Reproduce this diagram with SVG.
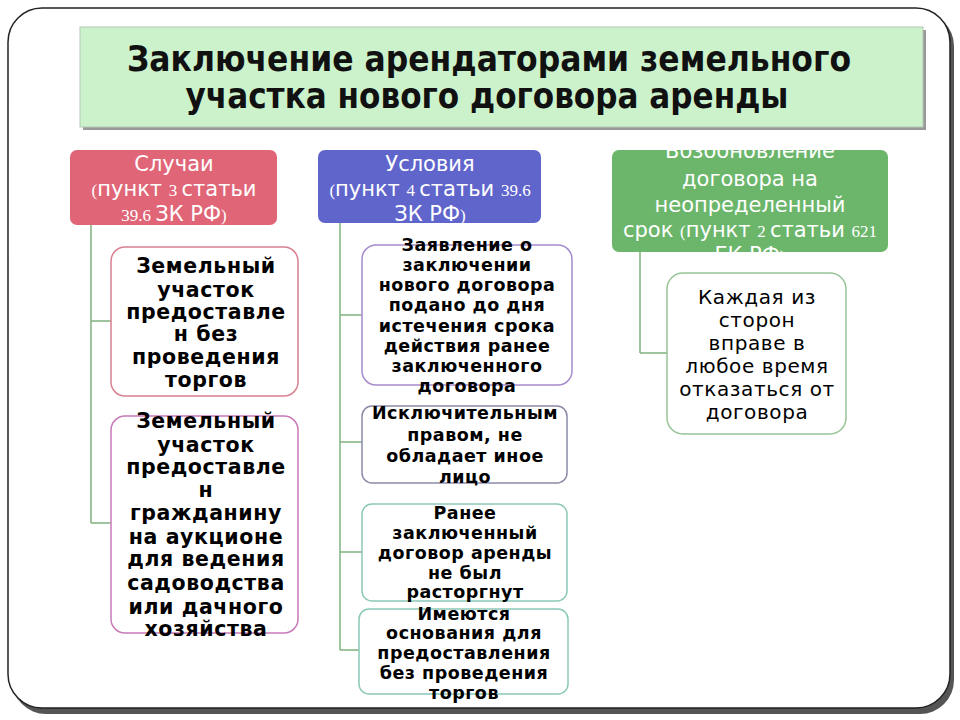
<svg xmlns="http://www.w3.org/2000/svg" width="960" height="720" viewBox="0 0 960 720">
<style>
.hd{font-family:"DejaVu Sans","Noto Sans",sans-serif;font-size:21px;fill:#fff;text-anchor:middle}
.sf{font-family:"Liberation Serif","DejaVu Serif",serif;font-size:17px}
.bl{font-family:"DejaVu Sans","Noto Sans",sans-serif;font-weight:bold;font-size:20.5px;letter-spacing:0.6px;fill:#000;text-anchor:middle}
.bm{font-family:"DejaVu Sans","Noto Sans",sans-serif;font-weight:bold;font-size:17.5px;letter-spacing:0.5px;fill:#000;text-anchor:middle}
.rn{font-family:"DejaVu Sans","Noto Sans",sans-serif;font-size:20px;letter-spacing:0.6px;fill:#000;text-anchor:middle}
.tt{font-family:"DejaVu Sans","Noto Sans",sans-serif;font-weight:bold;font-size:35px;fill:#111;text-anchor:middle}
.cn{stroke:#7fb27f;stroke-width:1.5;fill:none}
.bx{fill:#fff;stroke-width:1.5}
</style>
<rect width="960" height="720" fill="#fff"/>
<rect x="12" y="12" width="942" height="702" rx="34" fill="#555"/>
<rect x="8" y="8" width="942" height="700" rx="34" fill="#fff" stroke="#222" stroke-width="1.5"/>
<g id="title">
<rect x="83" y="30" width="843" height="100" fill="#999"/>
<rect x="80" y="27" width="843" height="100" fill="#ccf2cc" stroke="#b5c8b5" stroke-width="1"/>
<text class="tt" x="489" y="71" textLength="724" lengthAdjust="spacingAndGlyphs">Заключение арендаторами земельного</text>
<text class="tt" x="487" y="108" textLength="603" lengthAdjust="spacingAndGlyphs">участка нового договора аренды</text>
</g>
<g id="connectors">
<path class="cn" d="M91 225V523M91 321H111M91 523H111"/>
<path class="cn" d="M340 223V650M340 315H362M340 442H362M340 552H362M340 650H359"/>
<path class="cn" d="M640 252V353M640 353H667"/>
</g>
<g id="h1">
<rect x="70" y="150" width="207" height="75" rx="7" fill="#e06677"/>
<text class="hd" x="174" y="171">Случаи</text>
<text class="hd" x="174" y="196"><tspan class="sf">(</tspan>пункт <tspan class="sf">3 </tspan>статьи</text>
<text class="hd" x="174" y="221"><tspan class="sf">39.6 </tspan>ЗК РФ<tspan class="sf">)</tspan></text>
</g>
<g id="h2">
<rect x="318" y="150" width="223" height="73" rx="7" fill="#6065cc"/>
<text class="hd" x="430" y="171">Условия</text>
<text class="hd" x="430" y="196"><tspan class="sf">(</tspan>пункт <tspan class="sf">4 </tspan>статьи <tspan class="sf">39.6</tspan></text>
<text class="hd" x="430" y="221">ЗК РФ<tspan class="sf">)</tspan></text>
</g>
<g id="h3">
<rect x="612" y="150" width="276" height="102" rx="7" fill="#6bb66b"/>
<text class="hd" x="750" y="158">Возобновление</text>
<text class="hd" x="750" y="186">договора на</text>
<text class="hd" x="750" y="212">неопределенный</text>
<text class="hd" x="750" y="237">срок <tspan class="sf">(</tspan>пункт <tspan class="sf">2 </tspan>статьи <tspan class="sf">621</tspan></text>
<text class="hd" x="750" y="262">ГК РФ<tspan class="sf">)</tspan></text>
</g>
<g id="l1">
<rect class="bx" x="111" y="247" width="187" height="149" rx="14" stroke="#d98090"/>
<text class="bl" x="206" y="273">Земельный</text>
<text class="bl" x="206" y="297">участок</text>
<text class="bl" x="206" y="319">предоставле</text>
<text class="bl" x="206" y="341">н без</text>
<text class="bl" x="206" y="364">проведения</text>
<text class="bl" x="206" y="387">торгов</text>
</g>
<g id="l2">
<rect class="bx" x="111" y="416" width="187" height="217" rx="14" stroke="#c77ab8"/>
<text class="bl" x="206" y="428">Земельный</text>
<text class="bl" x="206" y="452">участок</text>
<text class="bl" x="206" y="474">предоставле</text>
<text class="bl" x="206" y="497">н</text>
<text class="bl" x="206" y="520">гражданину</text>
<text class="bl" x="206" y="544">на аукционе</text>
<text class="bl" x="206" y="566">для ведения</text>
<text class="bl" x="206" y="590">садоводства</text>
<text class="bl" x="206" y="614">или дачного</text>
<text class="bl" x="206" y="636">хозяйства</text>
</g>
<g id="m1">
<rect class="bx" x="362" y="245" width="210" height="140" rx="14" stroke="#a68ccc"/>
<text class="bm" x="467" y="251">Заявление о</text>
<text class="bm" x="467" y="271">заключении</text>
<text class="bm" x="467" y="291">нового договора</text>
<text class="bm" x="467" y="311">подано до дня</text>
<text class="bm" x="467" y="332">истечения срока</text>
<text class="bm" x="467" y="352">действия ранее</text>
<text class="bm" x="467" y="372">заключенного</text>
<text class="bm" x="467" y="392">договора</text>
</g>
<g id="m2">
<rect class="bx" x="362" y="406" width="205" height="77" rx="10" stroke="#8a8aa8"/>
<text class="bm" x="465" y="419">Исключительным</text>
<text class="bm" x="465" y="441">правом, не</text>
<text class="bm" x="465" y="462">обладает иное</text>
<text class="bm" x="465" y="483">лицо</text>
</g>
<g id="m3">
<rect class="bx" x="362" y="504" width="205" height="97" rx="10" stroke="#8cc8b8"/>
<text class="bm" x="465" y="519">Ранее</text>
<text class="bm" x="465" y="539">заключенный</text>
<text class="bm" x="465" y="559">договор аренды</text>
<text class="bm" x="465" y="579">не был</text>
<text class="bm" x="465" y="598">расторгнут</text>
</g>
<g id="m4">
<rect class="bx" x="359" y="609" width="209" height="85" rx="10" stroke="#8cc8b8"/>
<text class="bm" x="464" y="620">Имеются</text>
<text class="bm" x="464" y="639">основания для</text>
<text class="bm" x="464" y="659">предоставления</text>
<text class="bm" x="464" y="679">без проведения</text>
<text class="bm" x="464" y="699">торгов</text>
</g>
<g id="r1">
<rect class="bx" x="667" y="273" width="179" height="161" rx="16" stroke="#96c496"/>
<text class="rn" x="757" y="304">Каждая из</text>
<text class="rn" x="757" y="327">сторон</text>
<text class="rn" x="757" y="350">вправе в</text>
<text class="rn" x="757" y="373">любое время</text>
<text class="rn" x="757" y="396">отказаться от</text>
<text class="rn" x="757" y="419">договора</text>
</g>
</svg>
